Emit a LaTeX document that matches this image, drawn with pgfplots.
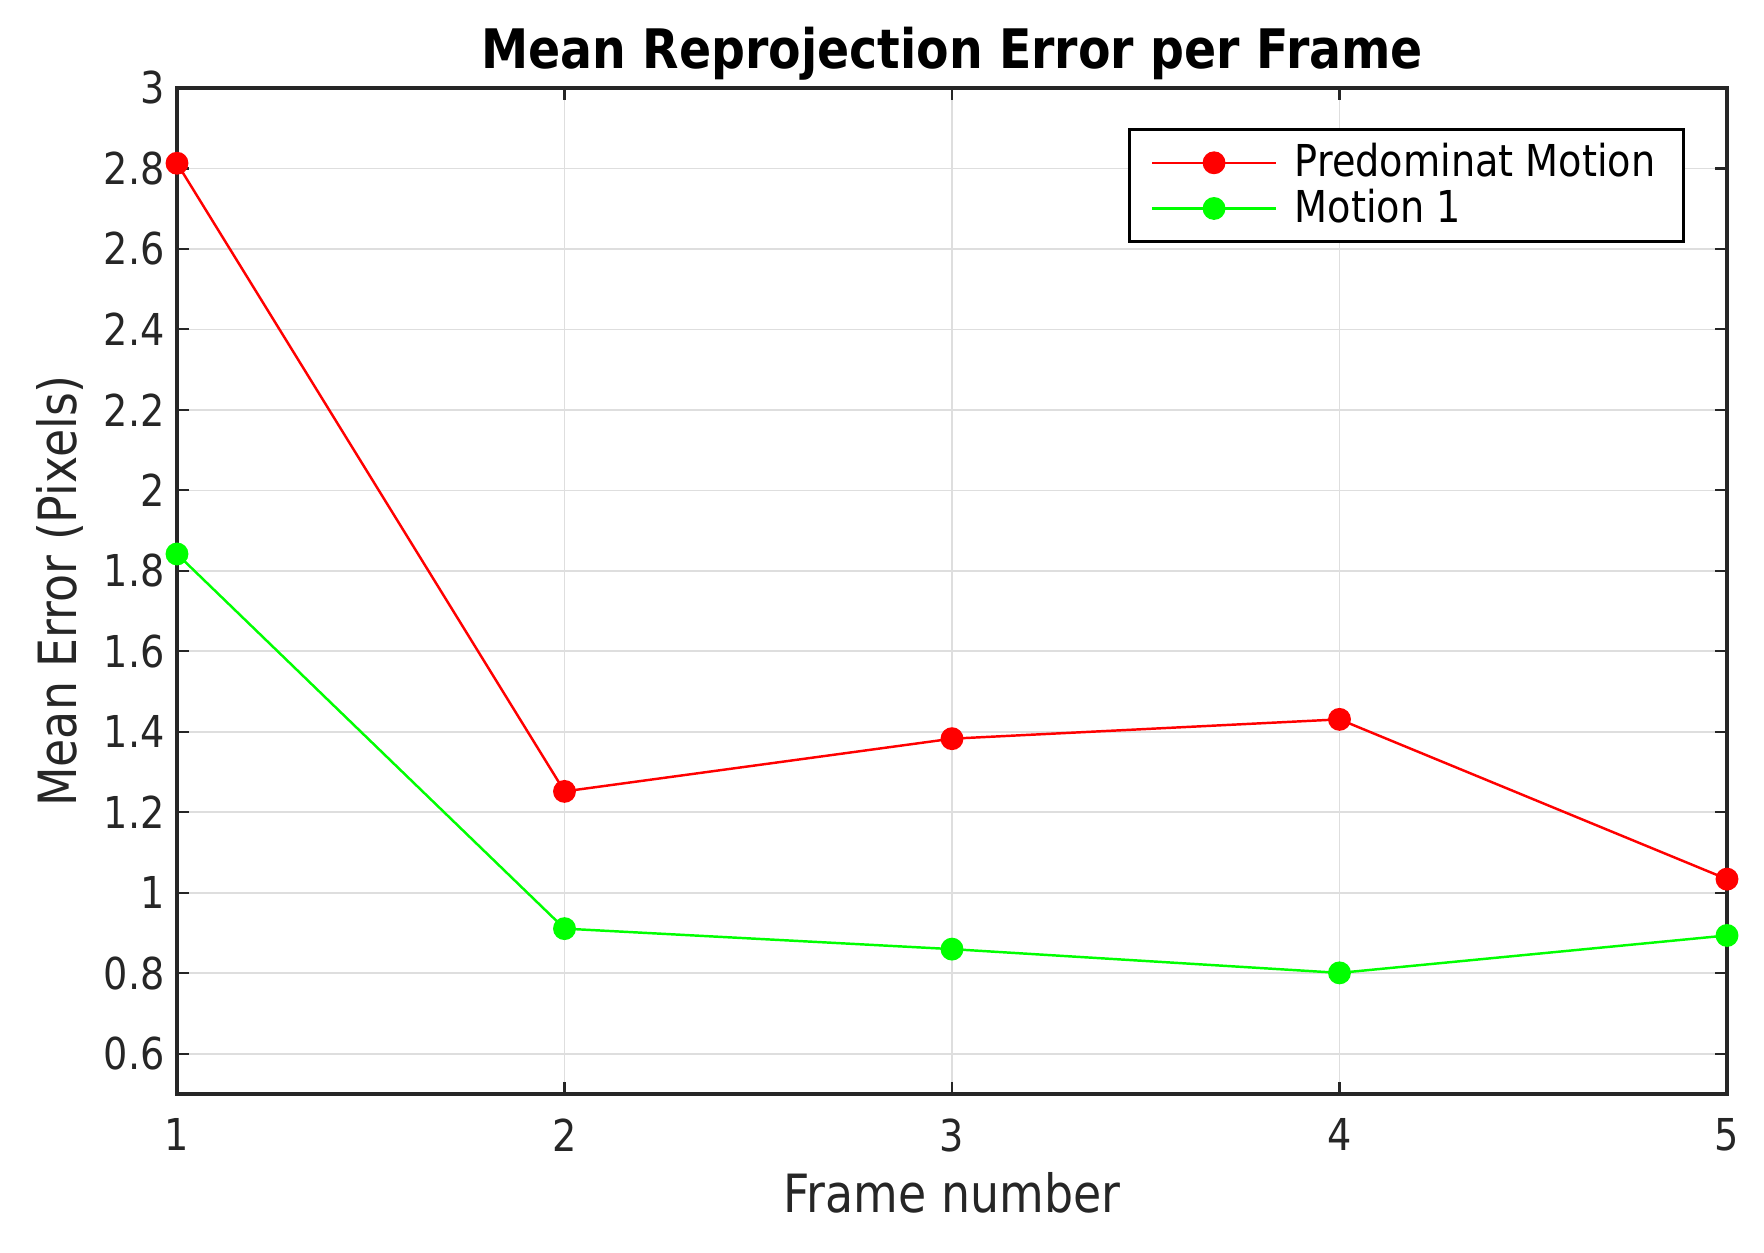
\documentclass[border=0pt]{standalone}
\usepackage{pgfplots}
\pgfplotsset{compat=1.18}
\usepackage{fontspec}
\setmainfont{DejaVu Sans}[FakeStretch=0.87]
\definecolor{axgray}{gray}{0.15}
\definecolor{gridgray}{gray}{0.87}
\begin{document}
\begin{tikzpicture}
\useasboundingbox (-1.77,-1.59) rectangle (15.87,10.94);
\begin{axis}[
    scale only axis,
    width=15.5cm, height=10.06cm,
    xmin=1, xmax=5, ymin=0.5, ymax=3,
    xtick={1,2,3,4,5},
    ytick={0.6,0.8,1,1.2,1.4,1.6,1.8,2,2.2,2.4,2.6,2.8,3},
    /pgf/number format/assume math mode=true,
    yticklabel style={/pgf/number format/fixed, font=\fontsize{12.5}{14}\selectfont, text=axgray},
    xticklabel style={font=\fontsize{12.5}{14}\selectfont, text=axgray, yshift=-0.12cm},
    tick align=inside,
    major tick length=0.12cm,
    tick style={axgray, line width=0.6pt},
    axis line style={axgray, line width=0.9pt},
    grid=major,
    major grid style={gridgray, line width=0.5pt},
    title={\bfseries Mean Reprojection Error per Frame},
    title style={font=\fontsize{15.5}{17}\selectfont, at={(0.5,1)}, anchor=south, yshift=-0.26cm},
    xlabel={Frame number},
    ylabel={Mean Error (Pixels)},
    label style={font=\fontsize{15}{17}\selectfont, text=axgray},
    xlabel style={yshift=0.03cm},
    ylabel style={yshift=-0.04cm},
    legend style={at={(1,1)}, anchor=north east, xshift=-0.42cm, yshift=-0.4cm,
        draw=black, line width=0.8pt, font=\fontsize{12.5}{14}\selectfont,
        row sep=-2pt, inner xsep=6pt, inner ysep=2pt, cells={anchor=west},
        column sep=3pt},
    legend image code/.code={
        \draw[#1, mark repeat=2, mark phase=2] plot coordinates {(0cm,0cm) (0.62cm,0cm) (1.24cm,0cm)};},
]
\addplot[red, line width=0.7pt, mark=*, mark size=2.9pt, mark options={fill=red, draw=red}]
    coordinates {(1,2.813) (2,1.252) (3,1.383) (4,1.431) (5,1.034)};
\addlegendentry{Predominat Motion}
\addplot[green, line width=0.7pt, mark=*, mark size=2.9pt, mark options={fill=green, draw=green}]
    coordinates {(1,1.842) (2,0.911) (3,0.860) (4,0.801) (5,0.894)};
\addlegendentry{Motion 1}
\end{axis}
\end{tikzpicture}
\end{document}
